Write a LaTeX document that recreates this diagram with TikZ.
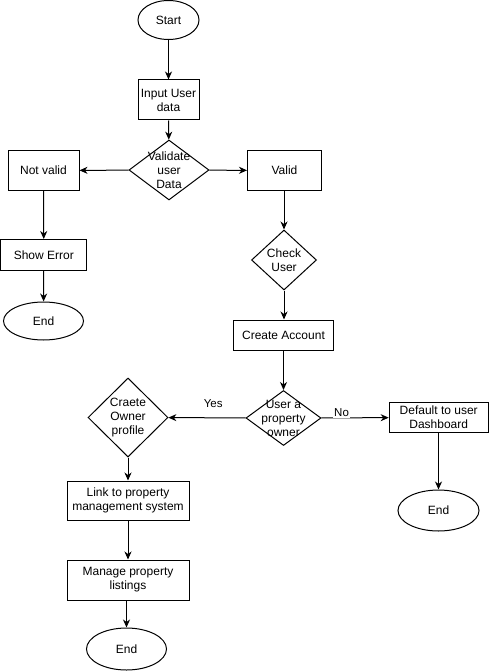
\documentclass[tikz,border=0pt]{standalone}
\usepackage{fontspec}
\setmainfont{Liberation Sans}
\usetikzlibrary{shapes.geometric,arrows.meta}
\begin{document}
\begin{tikzpicture}[x=1pt,y=-1pt,
  every node/.style={font=\fontsize{12}{14}\selectfont, inner sep=0pt, align=center},
  box/.style={draw, line width=1pt, rectangle, minimum width=#1},
  oval/.style={draw, line width=1pt, ellipse},
  dia/.style={draw, line width=1pt, diamond},
  arr/.style={line width=1pt, -{Stealth[length=8pt,width=7pt,inset=2.5pt]}},
  lbl/.style={font=\fontsize{11.5}{13}\selectfont}
]
\useasboundingbox (0,0) rectangle (489,671);
% top column
\node[oval, minimum width=61pt, minimum height=39pt] (start) at (168.5,20) {Start};
\node[box=61pt, minimum height=40pt] (input) at (168.5,100) {Input User\\data};
\node[dia, minimum width=80pt, minimum height=60pt] (validate) at (169,170) {};
\node (validatetxt) at (169,170) {Validate\\user\\Data};
\node[box=71pt, minimum height=39pt] (notvalid) at (43.5,170.5) {Not valid};
\node[box=74pt, minimum height=39pt] (valid) at (284.5,170.5) {Valid};
\node[box=86pt, minimum height=31pt] (showerror) at (43.8,255) {Show Error};
\node[oval, minimum width=80pt, minimum height=38pt] (endA) at (43.5,321) {End};
\node[dia, minimum width=65pt, minimum height=60pt] (check) at (284,260) {};
\node (checktxt) at (284,260) {Check\\User};
\node[box=100pt, minimum height=30pt] (create) at (283.5,335) {Create Account};
\node[dia, minimum width=75pt, minimum height=55pt] (owner) at (283.5,418) {};
\node (ownertxt) at (283.5,418) {User a\\property\\owner};
\node[dia, minimum width=80pt, minimum height=79pt] (craete) at (128,417.5) {};
\node (craetetxt) at (128,417.5) {Craete\\Owner\\profile};
\node[box=99pt, minimum height=30pt] (default) at (438.7,417.5) {Default to user\\Dashboard};
\node[oval, minimum width=81pt, minimum height=41pt] (endB) at (438.5,510.5) {End};
\node[box=122pt, minimum height=39pt] (link) at (128,500.5) {Link to property\\management system};
\node[box=122pt, minimum height=40pt] (manage) at (128,580) {Manage property\\listings};
\node[oval, minimum width=80pt, minimum height=42pt] (endC) at (126.5,649) {End};
% connectors
\draw[arr] (start) -- (input);
\draw[arr] (input) -- (validate);
\draw[arr] (validate) -- (notvalid);
\draw[arr] (validate) -- (valid);
\draw[arr] (notvalid) -- (showerror);
\draw[arr] (showerror) -- (endA);
\draw[arr] (valid.south -| check.north) -- (check);
\draw[arr] (check) -- (create.north -| check.south);
\draw[arr] (create.south -| owner.north) -- (owner);
\draw[arr] (owner) -- node[lbl, pos=0.42, yshift=14pt] (yes) {Yes} (craete);
\draw[arr] (owner) -- node[lbl, pos=0.3, fill=white, inner sep=1.5pt, yshift=5pt] (no) {No} (default);
\draw[arr] (default.south -| endB.north) -- (endB);
\draw[arr] (craete) -- (link);
\draw[arr] (link) -- (manage);
\draw[arr] (manage.south -| endC.north) -- (endC);
\end{tikzpicture}
\end{document}
